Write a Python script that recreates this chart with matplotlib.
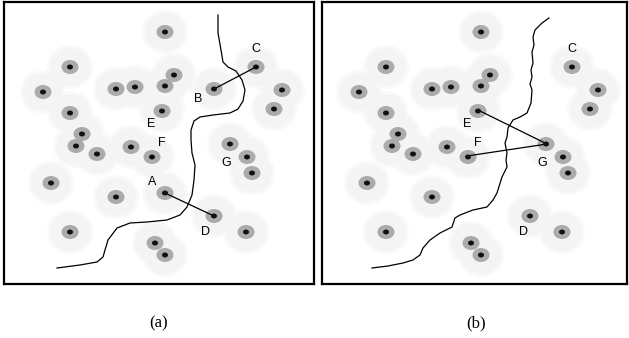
import matplotlib
matplotlib.use("Agg")
import matplotlib.pyplot as plt
from matplotlib.patches import Ellipse

# dot centres, pixel coords of the left panel (y down)
dot_x = [165, 70, 43, 116, 135, 165, 174, 256, 282, 274, 70, 162, 82, 76,
         131, 230, 97, 152, 247, 252, 51, 116, 214, 70, 246, 155, 165]
dot_y = [32, 67, 92, 89, 87, 86, 75, 67, 90, 109, 113, 111, 134, 146,
         147, 144, 154, 157, 157, 173, 183, 197, 216, 232, 232, 243, 255]
# extra dots only in (a)
a_extra_x = [214, 165]   # B, A
a_extra_y = [89, 193]

# boundary curves
curve_a_x = [218, 218, 221, 223, 228, 236, 242, 245, 243, 238, 230, 213, 200, 194,
             191, 191, 192, 195, 194, 192, 187, 180, 167, 147, 130, 117, 108, 105,
             103, 97, 80, 57]
curve_a_y = [15, 33, 50, 62, 67, 71, 80, 90, 101, 109, 113, 115, 117, 121,
             130, 140, 153, 165, 180, 195, 207, 215, 220, 222, 223, 228, 240, 250,
             257, 262, 265, 268]
curve_b_x = [549, 542, 535, 533, 534, 532, 533, 531, 532, 530, 532, 531, 527, 520,
             513, 508, 507, 505, 507, 506, 507, 502, 497, 493, 487, 473, 460, 455,
             452, 440, 430, 423, 420, 413, 403, 388, 372]
curve_b_y = [18, 23, 30, 37, 45, 52, 63, 70, 77, 84, 90, 103, 113, 117,
             120, 128, 137, 143, 153, 160, 167, 177, 193, 200, 207, 210, 215, 218,
             227, 233, 240, 248, 255, 260, 263, 266, 268]
curve_b_x = [v - 316 for v in curve_b_x]

# labels
lab_a = ["A", "B", "C", "D", "E", "F", "G"]
lab_a_x = [152, 198, 256, 206, 151, 162, 226]
lab_a_y = [182, 99, 49, 232, 124, 143, 163]
lab_b = ["C", "D", "E", "F", "G"]
lab_b_x = [256, 207, 151, 162, 226]
lab_b_y = [49, 232, 124, 143, 163]

# links
links_a = [((214, 89), (256, 67)), ((165, 193), (214, 216))]
links_b = [((164, 111), (231, 144)), ((151, 156), (231, 144))]

fig = plt.figure(figsize=(6.29, 3.38), dpi=100)


def panel(rect, xlim, xs, ys, cx, cy, labs, lx, ly, links):
    ax = fig.add_axes(rect)
    ax.set_xlim(*xlim)
    ax.set_ylim(284, 2)
    ax.set_xticks([])
    ax.set_yticks([])
    for s in ax.spines.values():
        s.set_linewidth(1.6)
    # soft halo
    for x, y in zip(xs, ys):
        ax.add_patch(Ellipse((x, y), 46, 44, color="#f9f9f9", lw=0, zorder=1))
    for x, y in zip(xs, ys):
        ax.add_patch(Ellipse((x, y), 40, 38, color="#f4f4f4", lw=0, zorder=1.5))
    ax.plot(cx, cy, color="black", lw=0.9, zorder=2)
    for x, y in zip(xs, ys):
        ax.add_patch(Ellipse((x, y), 17, 14, color="#ababab", lw=0, zorder=3))
    for (x0, y0), (x1, y1) in links:
        ax.plot([x0, x1], [y0, y1], color="black", lw=0.9, zorder=4)
    for x, y in zip(xs, ys):
        ax.add_patch(Ellipse((x, y), 6, 5, color="#111111", lw=0, zorder=5))
    for t, x, y in zip(labs, lx, ly):
        ax.text(x, y, t, ha="center", va="center", fontsize=9,
                family="Liberation Sans", zorder=6)
    return ax


panel([4 / 629, 54 / 338, 310 / 629, 282 / 338], (4, 314),
      dot_x + a_extra_x, dot_y + a_extra_y, curve_a_x, curve_a_y,
      lab_a, lab_a_x, lab_a_y, links_a)
panel([322 / 629, 54 / 338, 305 / 629, 282 / 338], (6, 311),
      dot_x, dot_y, curve_b_x, curve_b_y,
      lab_b, lab_b_x, lab_b_y, links_b)

fig.text(159 / 629, 1 - 323 / 338, "(a)", ha="center", va="center",
         fontsize=12, family="Liberation Serif")
fig.text(476 / 629, 1 - 323 / 338, "(b)", ha="center", va="center",
         fontsize=12, family="Liberation Serif")

fig.savefig("out.png", dpi=100)
